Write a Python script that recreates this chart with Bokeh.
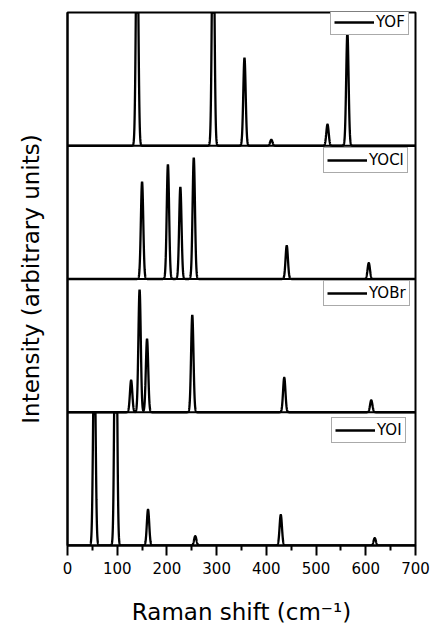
import numpy as np
from bokeh.plotting import figure
from bokeh.models import Span, Legend, LegendItem, FixedTicker, ColumnDataSource
from bokeh.embed import file_html
from bokeh.resources import INLINE

# ---- data ----
samples = ["YOF", "YOCl", "YOBr", "YOI"]          # top to bottom
yof_pos = [140, 293, 356, 410, 523, 563]
yof_int = [1.8, 2.0, 0.66, 0.045, 0.16, 0.85]
yocl_pos = [150, 202, 227, 254, 441, 606]
yocl_int = [0.73, 0.86, 0.69, 0.91, 0.25, 0.12]
yobr_pos = [128, 145, 160, 251, 436, 611]
yobr_int = [0.24, 0.92, 0.55, 0.73, 0.26, 0.09]
yoi_pos = [54, 97, 162, 257, 429, 618]
yoi_int = [1.6, 2.5, 0.27, 0.07, 0.23, 0.055]
x_ticks = [0, 100, 200, 300, 400, 500, 600, 700]
x_minor = [50, 150, 250, 350, 450, 550, 650]

peak_pos = [yof_pos, yocl_pos, yobr_pos, yoi_pos]
peak_int = [yof_int, yocl_int, yobr_int, yoi_int]

FONT = "DejaVu Sans"
SIGMA = 2.4

p = figure(width=438, height=627, x_range=(0, 700), y_range=(0, 4),
           output_backend="svg", toolbar_location=None,
           min_border_left=67, min_border_right=23,
           min_border_top=12, min_border_bottom=81)
p.xgrid.visible = False
p.ygrid.visible = False
p.outline_line_color = "black"
p.outline_line_width = 2
p.background_fill_color = "white"
p.border_fill_color = "white"

x = np.arange(0, 700.01, 0.2)
n = len(samples)
legend_locs = [(263, 510), (256, 372), (256, 239), (264, 102)]

for i, name in enumerate(samples):
    offset = n - 1 - i
    y = np.zeros_like(x)
    for c, h in zip(peak_pos[i], peak_int[i]):
        y = y + h * np.exp(-0.5 * ((x - c) / SIGMA) ** 2)
    y = np.minimum(y, 1.0) + offset
    src = ColumnDataSource(dict(x=x, y=y))
    r = p.line("x", "y", source=src, line_color="black", line_width=2.3)
    leg = Legend(items=[LegendItem(label=name, renderers=[r])],
                 location=legend_locs[i],
                 label_text_font=FONT, label_text_font_size="15px",
                 label_text_color="black",
                 glyph_width=40, glyph_height=14, label_height=14,
                 label_standoff=2, padding=3, spacing=0, margin=0,
                 border_line_color="#555555", border_line_width=1,
                 background_fill_color="white", background_fill_alpha=1)
    p.add_layout(leg)

for s in [1, 2, 3]:
    p.add_layout(Span(location=s, dimension="width", line_color="black", line_width=2))

xa = p.xaxis[0]
xa.ticker = FixedTicker(ticks=x_ticks, minor_ticks=x_minor)
xa.major_tick_out = 10
xa.major_tick_in = 0
xa.minor_tick_out = 5
xa.minor_tick_in = 0
xa.major_tick_line_width = 2
xa.minor_tick_line_width = 2
xa.axis_line_width = 2
xa.axis_line_color = "black"
xa.major_tick_line_color = "black"
xa.minor_tick_line_color = "black"
xa.major_label_text_font = FONT
xa.major_label_text_font_size = "15px"
xa.major_label_text_color = "black"
xa.major_label_standoff = 6
xa.axis_label = "Raman shift (cm⁻¹)"
xa.axis_label_text_font = FONT
xa.axis_label_text_font_size = "23px"
xa.axis_label_text_font_style = "normal"
xa.axis_label_text_color = "black"
xa.axis_label_standoff = 22

ya = p.yaxis[0]
ya.ticker = FixedTicker(ticks=[])
ya.axis_line_width = 2
ya.axis_line_color = "black"
ya.major_tick_out = 0
ya.minor_tick_out = 0
ya.axis_label = "Intensity (arbitrary units)"
ya.axis_label_text_font = FONT
ya.axis_label_text_font_size = "23px"
ya.axis_label_text_font_style = "normal"
ya.axis_label_text_color = "black"
ya.axis_label_standoff = 24

open("out.html", "w").write(file_html(p, INLINE))
